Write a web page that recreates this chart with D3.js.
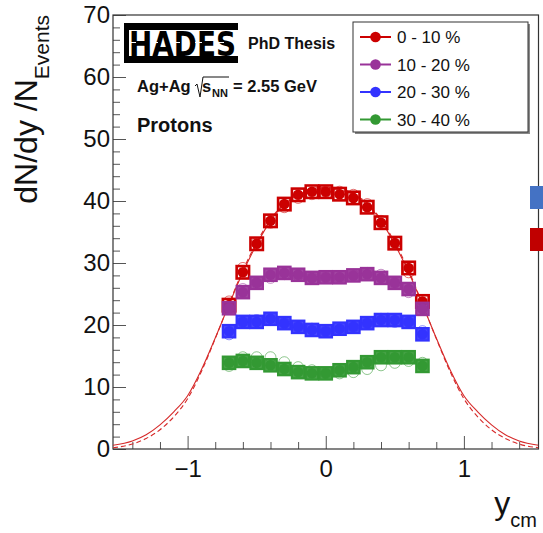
<!DOCTYPE html>
<html>
<head>
<meta charset="utf-8">
<script src="https://cdn.jsdelivr.net/npm/d3@7"></script>
<style>
  body { margin: 0; background: white; }
  svg { display: block; font-family: 'Liberation Sans', Arial, sans-serif; }
</style>
</head>
<body>
<div id="chart"></div>
<script>
// rapidity bins (y_cm)
const yCm = [-0.7, -0.6, -0.5, -0.4, -0.3, -0.2, -0.1, 0.0, 0.1, 0.2, 0.3, 0.4, 0.5, 0.6, 0.7];

// dN/dy per centrality class
const cent0010 = [23.2, 28.5, 33.1, 36.8, 39.5, 41.0, 41.5, 41.5, 41.1, 40.5, 39.0, 36.5, 33.2, 29.2, 23.8];
const cent1020 = [22.7, 25.3, 26.8, 28.1, 28.4, 28.1, 27.6, 27.7, 27.7, 28.0, 28.2, 27.6, 26.8, 25.8, 22.6];
const cent2030 = [19.0, 20.5, 20.5, 21.0, 20.3, 19.7, 19.2, 19.0, 19.4, 19.7, 20.3, 20.8, 20.8, 20.5, 18.5];
const cent3040 = [13.9, 14.2, 13.9, 13.5, 12.9, 12.4, 12.2, 12.2, 12.7, 13.2, 14.0, 14.8, 14.8, 14.8, 13.4];

// fit curves to 0-10 %
const fitX = [-1.54, -1.4, -1.3, -1.2, -1.1, -1.0, -0.9, -0.8, -0.7, -0.6, -0.5, -0.4, -0.3, -0.2, -0.1, 0.0,
  0.1, 0.2, 0.3, 0.4, 0.5, 0.6, 0.7, 0.8, 0.9, 1.0, 1.1, 1.2, 1.3, 1.4, 1.54];
const fitSolid = [0.6, 1.3, 2.3, 3.9, 6.0, 8.6, 12.8, 17.9, 23.3, 28.5, 33.0, 36.8, 39.4, 41.0, 41.8, 42.0,
  41.8, 41.0, 39.4, 36.8, 33.0, 28.5, 23.3, 17.9, 12.8, 8.6, 6.0, 3.9, 2.3, 1.3, 0.6];
const fitDashed = [0.2, 0.8, 1.7, 3.1, 5.2, 8.1, 12.5, 17.8, 23.4, 28.8, 33.3, 37.0, 39.6, 41.2, 42.0, 42.2,
  42.0, 41.2, 39.6, 37.0, 33.3, 28.8, 23.4, 17.8, 12.5, 8.1, 5.2, 3.1, 1.7, 0.8, 0.2];

const seriesNames = ['0 - 10 %', '10 - 20 %', '20 - 30 %', '30 - 40 %'];
const seriesColors = ['#cc0000', '#993399', '#3333ff', '#339933'];
const seriesValues = [cent0010, cent1020, cent2030, cent3040];

const xTicksMajor = [-1, 0, 1];
const yTicksMajor = [0, 10, 20, 30, 40, 50, 60, 70];

let
  W = 543,
  H = 533,
  frame = { left: 113, right: 538.5, top: 15, bottom: 449 },
  x,
  y,
  svg,
  plot;

x = d3.scaleLinear().domain([-1.54, 1.54]).range([frame.left, frame.right]);
y = d3.scaleLinear().domain([0, 70]).range([frame.bottom, frame.top]);

svg = d3.select('#chart')
  .append('svg')
  .attr('width', W)
  .attr('height', H);

svg.append('defs').append('clipPath')
  .attr('id', 'clip')
  .append('rect')
  .attr('x', frame.left)
  .attr('y', frame.top)
  .attr('width', frame.right - frame.left)
  .attr('height', frame.bottom - frame.top);

// minor ticks
svg.append('g')
  .attr('transform', 'translate(0,' + frame.bottom + ')')
  .call(d3.axisBottom(x)
    .tickValues(d3.range(-14, 15, 2).map(d => d / 10).filter(d => Math.abs(d % 1) > 0.01))
    .tickSize(-7).tickFormat(''))
  .call(g => g.select('.domain').remove())
  .call(g => g.selectAll('line').attr('stroke', '#555'));

svg.append('g')
  .attr('transform', 'translate(' + frame.left + ',0)')
  .call(d3.axisLeft(y)
    .tickValues(d3.range(0, 71, 2).filter(d => d % 10 !== 0))
    .tickSize(-7).tickFormat(''))
  .call(g => g.select('.domain').remove())
  .call(g => g.selectAll('line').attr('stroke', '#555'));

// major ticks + labels
svg.append('g')
  .attr('transform', 'translate(0,' + frame.bottom + ')')
  .call(d3.axisBottom(x).tickValues(xTicksMajor).tickFormat(d3.format('d')).tickSize(-13).tickPadding(11))
  .call(g => g.select('.domain').remove())
  .call(g => g.selectAll('line').attr('stroke', '#555'))
  .call(g => g.selectAll('text').attr('font-size', 24).attr('fill', '#111')
    .attr('font-family', "'Liberation Sans', Arial, sans-serif"));

svg.append('g')
  .attr('transform', 'translate(' + frame.left + ',0)')
  .call(d3.axisLeft(y).tickValues(yTicksMajor).tickSize(-13).tickPadding(3))
  .call(g => g.select('.domain').remove())
  .call(g => g.selectAll('line').attr('stroke', '#555'))
  .call(g => g.selectAll('text').attr('font-size', 24).attr('fill', '#111')
    .attr('font-family', "'Liberation Sans', Arial, sans-serif"));

// frame
svg.append('rect')
  .attr('x', frame.left)
  .attr('y', frame.top)
  .attr('width', frame.right - frame.left)
  .attr('height', frame.bottom - frame.top)
  .attr('fill', 'none')
  .attr('stroke', '#333')
  .attr('stroke-width', 1.2);

plot = svg.append('g').attr('clip-path', 'url(#clip)');

// fit curves
const fitLine = d3.line().curve(d3.curveMonotoneX);

plot.append('path')
  .attr('d', fitLine(fitX.map((d, i) => [x(d), y(fitSolid[i])])))
  .attr('fill', 'none')
  .attr('stroke', '#d62a2a')
  .attr('stroke-width', 1.1);

plot.append('path')
  .attr('d', fitLine(fitX.map((d, i) => [x(d), y(fitDashed[i])])))
  .attr('fill', 'none')
  .attr('stroke', '#d62a2a')
  .attr('stroke-width', 1.1)
  .attr('stroke-dasharray', '5,3');

// series: reflected points (open), systematic boxes, data points
seriesValues.forEach(function (vals, s) {
  let col = seriesColors[s], g = plot.append('g');

  g.selectAll('circle.refl')
    .data(vals)
    .enter().append('circle')
    .attr('class', 'refl')
    .attr('cx', (d, i) => x(-yCm[i]))
    .attr('cy', d => y(d))
    .attr('r', 5.5)
    .attr('fill', 'none')
    .attr('stroke', col)
    .attr('stroke-opacity', 0.55)
    .attr('stroke-width', 1);

  g.selectAll('rect.sys')
    .data(vals)
    .enter().append('rect')
    .attr('class', 'sys')
    .attr('x', (d, i) => x(yCm[i] - 0.045))
    .attr('y', d => y(d + 1.0))
    .attr('width', (d, i) => x(yCm[i] + 0.045) - x(yCm[i] - 0.045))
    .attr('height', d => y(d - 1.0) - y(d + 1.0))
    .attr('fill', s === 0 ? 'none' : col)
    .attr('fill-opacity', 0.9)
    .attr('stroke', col)
    .attr('stroke-width', s === 0 ? 2.6 : 2.2);

  g.selectAll('circle.pt')
    .data(vals)
    .enter().append('circle')
    .attr('class', 'pt')
    .attr('cx', (d, i) => x(yCm[i]))
    .attr('cy', d => y(d))
    .attr('r', 5.3)
    .attr('fill', col);
});

// legend
let leg = svg.append('g');
leg.append('rect')
  .attr('x', 355).attr('y', 24).attr('width', 175).attr('height', 110)
  .attr('fill', '#888');
leg.append('rect')
  .attr('x', 353).attr('y', 22).attr('width', 175).attr('height', 110)
  .attr('fill', 'white').attr('stroke', '#333').attr('stroke-width', 1);

seriesNames.forEach(function (name, i) {
  let ly = 37 + i * 27.5;
  leg.append('line')
    .attr('x1', 360).attr('x2', 391).attr('y1', ly).attr('y2', ly)
    .attr('stroke', seriesColors[i]).attr('stroke-width', 2);
  leg.append('circle')
    .attr('cx', 375.5).attr('cy', ly).attr('r', 5.3)
    .attr('fill', seriesColors[i]);
  leg.append('text')
    .attr('x', 397).attr('y', ly + 6)
    .attr('font-size', 17)
    .attr('fill', '#111')
    .text(name);
});

// HADES logo
let logo = svg.append('g');
logo.append('rect').attr('x', 124).attr('y', 23).attr('width', 114).attr('height', 7).attr('fill', 'black');
logo.append('rect').attr('x', 124).attr('y', 56).attr('width', 114).attr('height', 7).attr('fill', 'black');
logo.append('rect').attr('x', 124).attr('y', 23).attr('width', 5).attr('height', 40).attr('fill', 'black');
logo.append('text')
  .attr('x', 129).attr('y', 56)
  .attr('font-family', "'DejaVu Sans', sans-serif")
  .attr('font-weight', 'bold')
  .attr('font-size', 33)
  .attr('textLength', 107)
  .attr('lengthAdjust', 'spacingAndGlyphs')
  .attr('fill', 'black')
  .text('HADES');
logo.append('line').attr('x1', 129).attr('x2', 236).attr('y1', 42.5).attr('y2', 42.5)
  .attr('stroke', 'white').attr('stroke-width', 1.2).attr('stroke-dasharray', '7,15');

svg.append('text')
  .attr('x', 248).attr('y', 49)
  .attr('font-size', 16).attr('font-weight', 'bold').attr('fill', '#111')
  .text('PhD Thesis');

// Ag+Ag sqrt(s_NN) label
let ann = svg.append('g').attr('font-weight', 'bold').attr('fill', '#111');
ann.append('text').attr('x', 137).attr('y', 92).attr('font-size', 16.5).text('Ag+Ag');
ann.append('path')
  .attr('d', 'M195,86 L197,84 L200,97 L203,77 L229,77')
  .attr('fill', 'none').attr('stroke', '#111').attr('stroke-width', 1);
ann.append('text').attr('x', 202).attr('y', 92).attr('font-size', 16.5).text('s');
ann.append('text').attr('x', 212).attr('y', 97).attr('font-size', 11).text('NN');
ann.append('text').attr('x', 233).attr('y', 92).attr('font-size', 16.5).text('= 2.55 GeV');

svg.append('text')
  .attr('x', 137).attr('y', 132)
  .attr('font-size', 20).attr('font-weight', 'bold').attr('fill', '#111')
  .text('Protons');

// axis titles
let yt = svg.append('text')
  .attr('transform', 'translate(37,15) rotate(-90)')
  .attr('text-anchor', 'end')
  .attr('fill', '#111')
  .attr('font-size', 32);
yt.append('tspan').text('dN/dy /N');
yt.append('tspan').attr('font-size', 21).attr('dy', 12).text('Events');

let xt = svg.append('text')
  .attr('x', 537).attr('y', 514)
  .attr('text-anchor', 'end')
  .attr('fill', '#111')
  .attr('font-size', 32);
xt.append('tspan').text('y');
xt.append('tspan').attr('font-size', 20).attr('dy', 13).text('cm');

// side markers beyond the frame
svg.append('rect').attr('x', 530).attr('y', 186).attr('width', 13).attr('height', 23).attr('fill', '#4472c4');
svg.append('rect').attr('x', 530).attr('y', 228).attr('width', 13).attr('height', 23).attr('fill', '#c00000');
</script>
</body>
</html>
